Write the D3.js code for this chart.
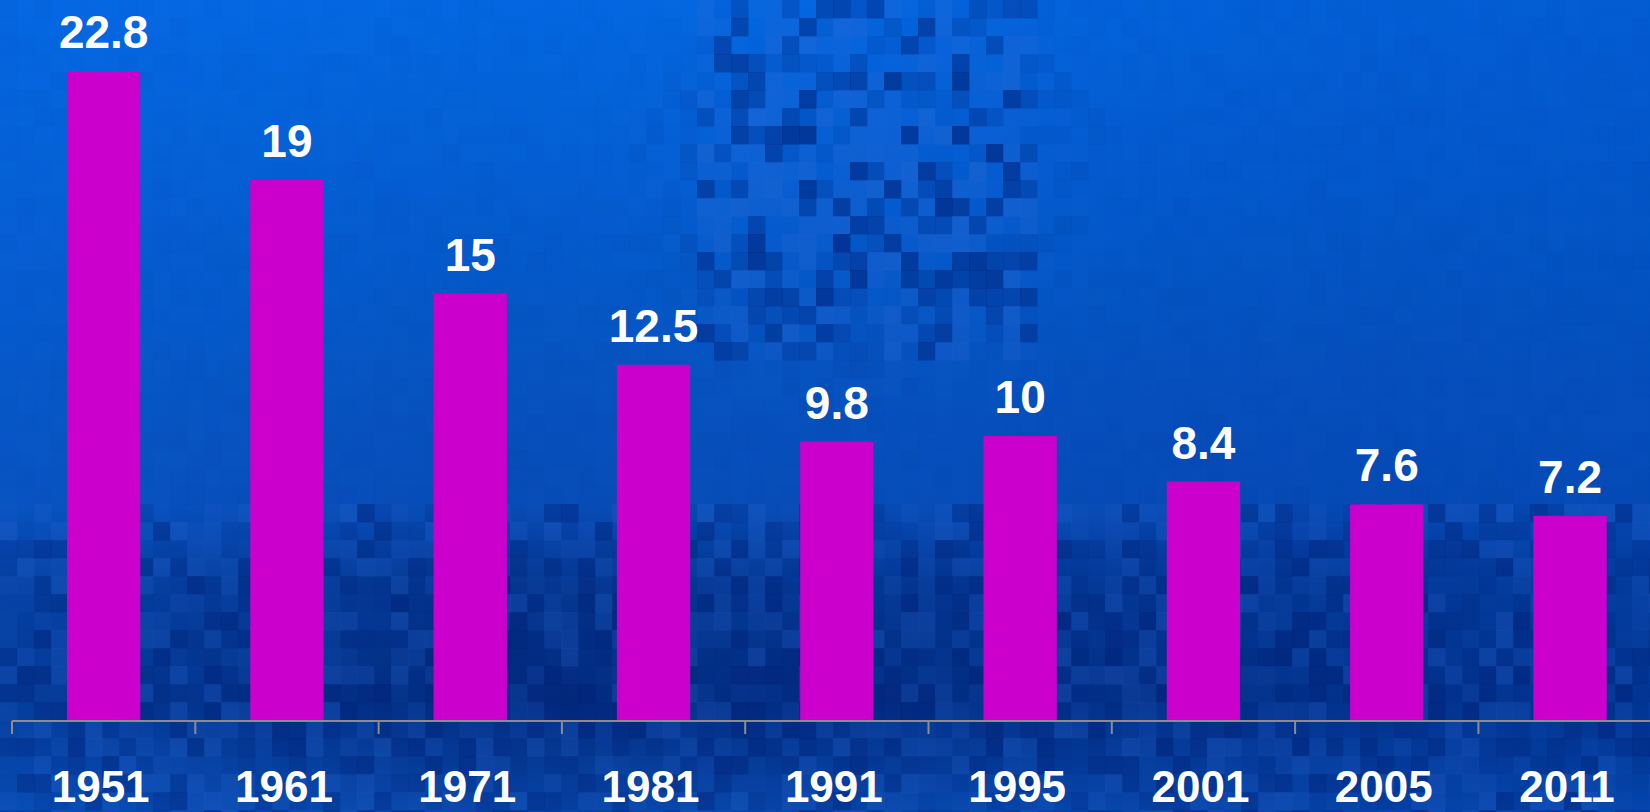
<!DOCTYPE html>
<html>
<head>
<meta charset="utf-8">
<script src="https://cdn.jsdelivr.net/npm/d3@7"></script>
<style>
  html, body { margin: 0; padding: 0; background: #0552c4; overflow: hidden; }
  svg { display: block; }
</style>
</head>
<body>
<svg id="chart" width="1650" height="812"></svg>
<script>
// Census years and the value recorded for each
const years = ["1951", "1961", "1971", "1981", "1991", "1995", "2001", "2005", "2011"];
const values = [22.8, 19, 15, 12.5, 9.8, 10, 8.4, 7.6, 7.2];
const valueLabels = ["22.8", "19", "15", "12.5", "9.8", "10", "8.4", "7.6", "7.2"];

const W = 1650, H = 812;
const svg = d3.select("#chart");
const defs = svg.append("defs");

// ---- background: blue gradient with a blocky mosaic texture ----
const vg = defs.append("linearGradient").attr("id", "bgV")
  .attr("x1", 0).attr("y1", 0).attr("x2", 0).attr("y2", 1);
[[0, "#0468e2"], [0.35, "#0558c8"], [0.62, "#084cb6"], [0.72, "#04358f"],
 [0.86, "#032c80"], [1, "#0744a6"]].forEach(([o, c]) =>
  vg.append("stop").attr("offset", o).attr("stop-color", c));

const hg = defs.append("linearGradient").attr("id", "bgH")
  .attr("x1", 0).attr("y1", 0).attr("x2", 1).attr("y2", 0);
[[0, "#0a6ae8", 0.25], [0.3, "#0a6ae8", 0.0], [0.7, "#0040b0", 0.15], [1, "#0048b8", 0.35]]
  .forEach(([o, c, a]) => hg.append("stop").attr("offset", o)
    .attr("stop-color", c).attr("stop-opacity", a));

svg.append("rect").attr("width", W).attr("height", H).attr("fill", "url(#bgV)");
svg.append("rect").attr("width", W).attr("height", H).attr("fill", "url(#bgH)");

// deterministic hash for the mosaic tiles
const hash = (i, j) => {
  const s = Math.sin(i * 12.9898 + j * 78.233) * 43758.5453;
  return s - Math.floor(s);
};
const cellW = 17, cellH = 18;
const tiles = [];
for (let j = 0; j < Math.ceil(H / cellH); j++) {
  for (let i = 0; i < Math.ceil(W / cellW); i++) {
    const cx = i * cellW + cellW / 2, cy = j * cellH + cellH / 2;
    // strong texture in the upper-middle block, softer along the lower band
    const inBlock = cx > 700 && cx < 1040 && cy < 360 ? 1 : 0;
    const dx = (cx - 870) / 260, dy = (cy - 170) / 260;
    const blob = Math.max(0, 1 - Math.sqrt(dx * dx + dy * dy));
    const band = cy > 500 ? 0.6 : 0;
    const w = Math.min(1, 0.06 + inBlock * 0.6 + blob * 0.6 + band);
    const h = hash(i, j);
    tiles.push({ x: i * cellW, y: j * cellH, w, h });
  }
}
svg.append("g").selectAll("rect").data(tiles).join("rect")
  .attr("x", d => d.x).attr("y", d => d.y)
  .attr("width", cellW + 0.5).attr("height", cellH + 0.5)
  .attr("fill", d => d.h < 0.5 ? "#001c70" : "#2a68d2")
  .attr("opacity", d => d.h < 0.5 ? d.w * (0.5 - d.h) * 1.2 : d.w * (d.h - 0.5) * 0.8);

// ---- scales ----
const x = d3.scaleBand()
  .domain(years)
  .range([12, 12 + 9 * 183.3])
  .paddingInner(0.6)
  .paddingOuter(0.3);

const baseY = 721;
const y = d3.scaleLinear().domain([0, 25]).range([baseY, baseY - 25 * 28.5]);

const rows = years.map((yr, i) => ({ yr, v: values[i], label: valueLabels[i] }));

// ---- bars ----
svg.append("g").selectAll("rect").data(rows).join("rect")
  .attr("x", d => x(d.yr))
  .attr("y", d => y(d.v))
  .attr("width", x.bandwidth())
  .attr("height", d => y(0) - y(d.v))
  .attr("fill", "#cc00cc");

// ---- value labels ----
svg.append("g").selectAll("text").data(rows).join("text")
  .attr("x", d => x(d.yr) + x.bandwidth() / 2)
  .attr("y", d => y(d.v) - 23)
  .attr("text-anchor", "middle")
  .attr("fill", "#ffffff")
  .attr("font-family", "'Liberation Sans', Arial, sans-serif")
  .attr("font-weight", "bold")
  .attr("font-size", 46)
  .text(d => d.label);

// ---- category axis: baseline with ticks on the band boundaries ----
const axis = svg.append("g").attr("transform", `translate(0,${baseY})`);
axis.append("line")
  .attr("x1", x.range()[0]).attr("x2", W)
  .attr("y1", 0).attr("y2", 0)
  .attr("stroke", "#8c8c8c").attr("stroke-width", 2);
axis.selectAll("line.tick").data(years).join("line")
  .attr("class", "tick")
  .attr("x1", d => x(d) - x.step() * x.paddingOuter())
  .attr("x2", d => x(d) - x.step() * x.paddingOuter())
  .attr("y1", 0).attr("y2", 13)
  .attr("stroke", "#8c8c8c").attr("stroke-width", 2);

axis.selectAll("text").data(years).join("text")
  .attr("x", d => x(d) + x.bandwidth() / 2 - 3)
  .attr("y", 81)
  .attr("text-anchor", "middle")
  .attr("fill", "#ffffff")
  .attr("font-family", "'Liberation Sans', Arial, sans-serif")
  .attr("font-weight", "bold")
  .attr("font-size", 44)
  .text(d => d);
</script>
</body>
</html>
